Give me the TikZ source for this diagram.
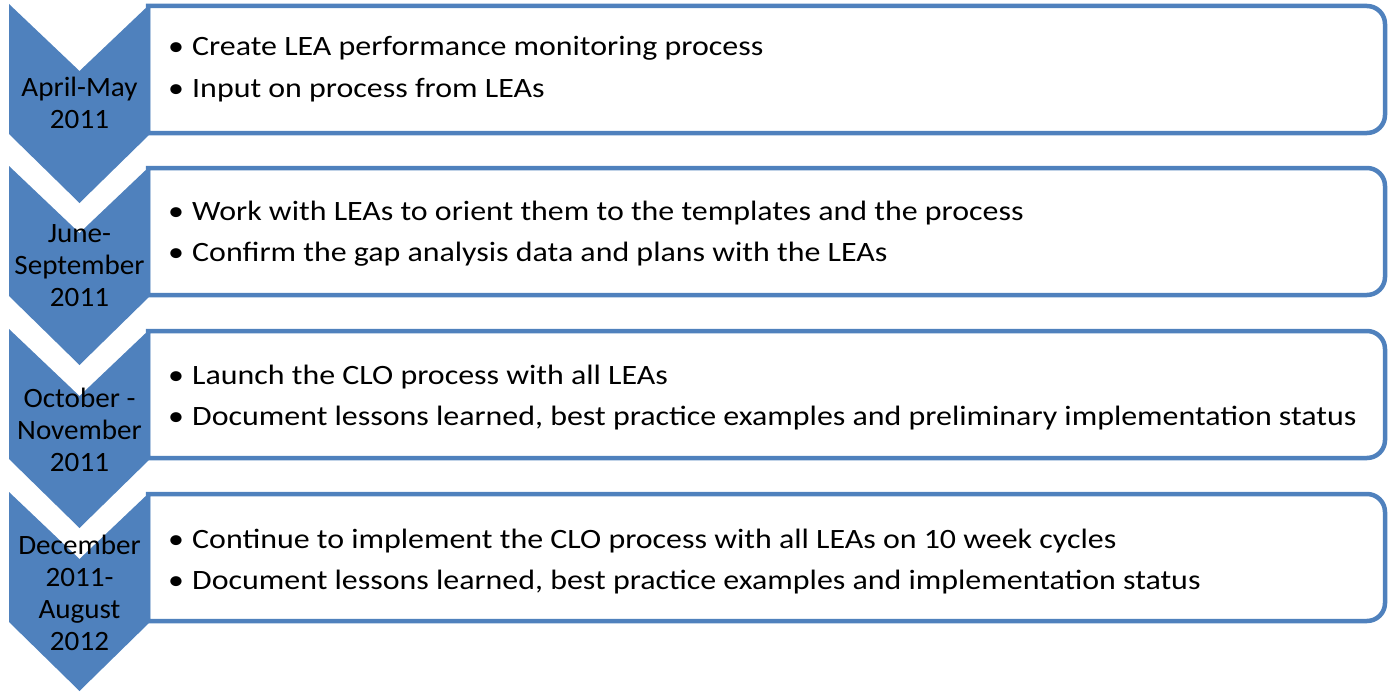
\documentclass[tikz,border=0pt]{standalone}
\usepackage{fontspec}
\usepackage{graphicx}
\setmainfont{Carlito}
\definecolor{accent}{HTML}{4F81BD}
\newcommand{\wideitem}[1]{\scalebox{1.14}[1]{#1}}
\newcommand{\widedate}[1]{\scalebox{1.04}[1]{#1}}
\tikzset{
  chev/.style={fill=accent, draw=none},
  panel/.style={draw=accent, line width=4.5pt, fill=white},
  datetext/.style={font=\fontsize{28}{32}\selectfont, align=center, inner sep=0pt},
  itemtext/.style={font=\fontsize{28}{34}\selectfont, anchor=base west, inner sep=0pt},
  bullettext/.style={font=\fontsize{28}{34}\selectfont, anchor=base, inner sep=0pt},
}
\begin{document}
\begin{tikzpicture}[x=1pt,y=1pt]
\useasboundingbox (0,0) rectangle (1393,-693);
% panels
\foreach \t in {4,166,329,492}{
  \draw[panel] (148,-\t-2) -- (1367,-\t-2) arc[start angle=90,end angle=0,radius=18]
    -- (1385,-\t-111) arc[start angle=0,end angle=-90,radius=18] -- (148,-\t-129) -- cycle;
}
% chevrons
\foreach \t in {4,166,329,492}{
  \fill[chev] (9,-\t) -- (79.5,-\t-67) -- (150,-\t) -- (150,-\t-130)
    -- (79.5,-\t-199) -- (9,-\t-130) -- cycle;
}
% dates
\node[datetext] (d1) at (79.5,-103) {\widedate{April-May}\\\widedate{2011}};
\node[datetext] (d2) at (79.5,-266) {\widedate{June-}\\\widedate{September}\\\widedate{2011}};
\node[datetext] (d3) at (79.5,-430) {\widedate{October -}\\\widedate{November}\\\widedate{2011}};
\node[datetext] (d4) at (79.5,-593) {\widedate{December}\\\widedate{2011-}\\\widedate{August}\\\widedate{2012}};
% bullets
\foreach \b/\n in {56/a1,97/a2,220/b1,261/b2,384/c1,425/c2,548/e1,589/e2}{
  \node[bullettext] (bul\n) at (176,-\b) {\wideitem{•}};
}
\node[itemtext] (a1) at (192,-56) {\wideitem{Create LEA performance monitoring process}};
\node[itemtext] (a2) at (192,-97) {\wideitem{Input on process from LEAs}};
\node[itemtext] (b1) at (192,-220) {\wideitem{Work with LEAs to orient them to the templates and the process}};
\node[itemtext] (b2) at (192,-261) {\wideitem{Confirm the gap analysis data and plans with the LEAs}};
\node[itemtext] (c1) at (192,-384) {\wideitem{Launch the CLO process with all LEAs}};
\node[itemtext] (c2) at (192,-425) {\wideitem{Document lessons learned, best practice examples and preliminary implementation status}};
\node[itemtext] (e1) at (192,-548) {\wideitem{Continue to implement the CLO process with all LEAs on 10 week cycles}};
\node[itemtext] (e2) at (192,-589) {\wideitem{Document lessons learned, best practice examples and implementation status}};
\end{tikzpicture}
\end{document}
